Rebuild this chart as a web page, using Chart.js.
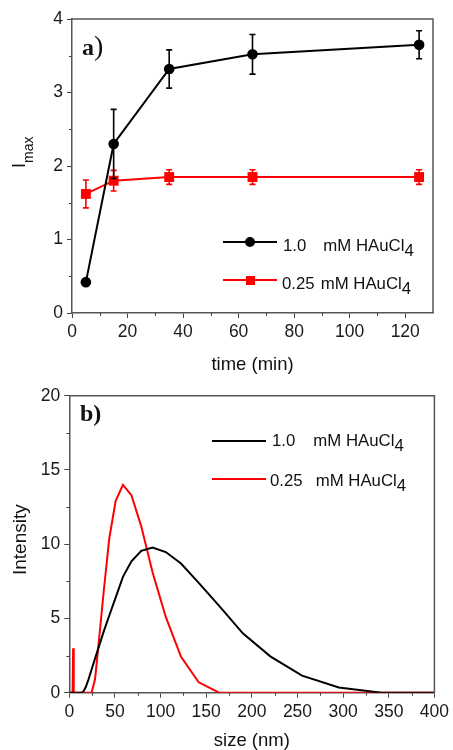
<!DOCTYPE html>
<html>
<head>
<meta charset="utf-8">
<title>I max and size distribution</title>
<script src="https://cdn.jsdelivr.net/npm/chart.js@4.4.1/dist/chart.umd.min.js"></script>
<style>
  html, body { margin: 0; padding: 0; background: #fff; }
  #page { position: relative; width: 453px; height: 750px; overflow: hidden;
          font-family: "Liberation Sans", Arial, sans-serif; color: #111; }
  .panel { position: absolute; left: 0; width: 453px; height: 375px; }
  #panelA { top: 0; }
  #panelB { top: 375px; }
  canvas { display: block; }
  .txt { position: absolute; white-space: pre; line-height: 1; }
  .leg { font-size: 16.8px; }
  .txt sub { font-size: 16.8px; vertical-align: baseline; position: relative; top: 5px; }
  .tag { font-family: "Liberation Serif", "Times New Roman", serif; font-weight: bold; font-size: 24px; }
  .rot { transform-origin: 0 0; transform: rotate(-90deg); }
  .swatch { position: absolute; height: 2px; width: 54px; }
  .dot { position: absolute; width: 10px; height: 10px; border-radius: 50%; left: 22px; top: -4px; }
  .sq { position: absolute; width: 9px; height: 9px; left: 22.5px; top: -3.5px; }
</style>
</head>
<body>
<div id="page">
  <div class="panel" id="panelA"><canvas id="imaxChart" width="453" height="375"></canvas></div>
  <div class="panel" id="panelB"><canvas id="sizeChart" width="453" height="375"></canvas></div>

  <!-- panel a overlays -->
  <div class="txt tag" style="left:82px; top:32px;">a<span style="font-weight:normal; font-size:28px;">)</span></div>
  <div class="txt rot" style="left:10px; top:168px; font-size:18px;">I<span style="font-size:14px; position:relative; top:8px;">max</span></div>
  <div class="swatch" style="left:223px; top:241px; background:#000;"><div class="dot" style="background:#000;"></div></div>
  <div class="txt leg" style="left:283px; top:238px;">1.0<span style="margin-left:17px;">mM HAuCl<sub>4</sub></span></div>
  <div class="swatch" style="left:223px; top:279px; background:#f00;"><div class="sq" style="background:#f00;"></div></div>
  <div class="txt leg" style="left:282px; top:276px;">0.25<span style="margin-left:6px;">mM HAuCl<sub>4</sub></span></div>

  <!-- panel b overlays -->
  <div class="txt tag" style="left:80px; top:401px;">b)</div>
  <div class="txt rot" style="left:10px; top:575px; font-size:19px;">Intensity</div>
  <div class="swatch" style="left:212px; top:440px; background:#000;"></div>
  <div class="txt leg" style="left:272px; top:433px;">1.0<span style="margin-left:18px;">mM HAuCl<sub>4</sub></span></div>
  <div class="swatch" style="left:212px; top:478px; background:#f00;"></div>
  <div class="txt leg" style="left:270px; top:473px;">0.25<span style="margin-left:13px;">mM HAuCl<sub>4</sub></span></div>
</div>

<script>
// I_max versus reaction time, 1.0 mM and 0.25 mM HAuCl4
const timeMin = [5, 15, 35, 65, 125];
const imaxHigh = [0.42, 2.30, 3.32, 3.52, 3.65];
const imaxHighErr = [0.03, 0.47, 0.26, 0.27, 0.19];
const imaxLow = [1.62, 1.80, 1.85, 1.85, 1.85];
const imaxLowErr = [0.19, 0.14, 0.10, 0.10, 0.10];
const timeTicks = [0, 20, 40, 60, 80, 100, 120];
const imaxTicks = [0, 1, 2, 3, 4];

// DLS intensity distribution over the size bins (nm)
const sizeNm = [0.4, 3.615, 4.187, 4.849, 13.54, 15.69, 18.17, 21.04, 24.36, 28.21, 32.67, 37.84,
                43.82, 50.75, 58.77, 68.06, 78.82, 91.28, 105.7, 122.4, 141.8, 164.2, 190.1,
                220.2, 255.0, 295.3, 342.0, 396.1, 458.7];
const intensityHigh = [0, 0, 0, 0, 0, 0.1, 0.4, 0.9, 1.55, 2.3, 3.15, 4.15,
                       5.2, 6.4, 7.8, 8.85, 9.55, 9.77, 9.47, 8.7, 7.4, 5.85, 4.0,
                       2.45, 1.15, 0.35, 0, 0, 0];
const intensityLow = [0, 0, 3.0, 0, 0, 0, 0, 0, 0, 0.9, 3.65, 6.9,
                      10.4, 12.9, 14.0, 13.3, 11.2, 8.1, 5.1, 2.42, 0.7, 0, 0,
                      0, 0, 0, 0, 0, 0];
const sizeTicks = [0, 50, 100, 150, 200, 250, 300, 350, 400];
const intensityTicks = [0, 5, 10, 15, 20];

const FONT = '"Liberation Sans", Arial, sans-serif';
const AXIS_GREY = '#555';

// top/right frame plus short unlabelled ticks between the labelled ones
const framePlugin = {
    id: 'frame',
    afterDraw(chart, args, opts) {
        const { ctx, chartArea: a, scales } = chart;
        const mids = list => list.slice(1).map((v, i) => (v + list[i]) / 2);
        ctx.save();
        ctx.strokeStyle = AXIS_GREY;
        ctx.lineWidth = 1.5;
        ctx.beginPath();
        ctx.moveTo(a.left, a.top);
        ctx.lineTo(a.right, a.top);
        ctx.lineTo(a.right, a.bottom);
        ctx.stroke();

        ctx.lineWidth = 1;
        ctx.strokeStyle = '#444';
        ctx.beginPath();
        mids(opts.xTicks).forEach(v => {
            const px = Math.round(scales.x.getPixelForValue(v)) + 0.5;
            ctx.moveTo(px, a.bottom);
            ctx.lineTo(px, a.bottom + 3);
        });
        mids(opts.yTicks).forEach(v => {
            const py = Math.round(scales.y.getPixelForValue(v)) + 0.5;
            ctx.moveTo(a.left, py);
            ctx.lineTo(a.left - 3, py);
        });
        ctx.stroke();
        ctx.restore();
    }
};

// vertical error bars with caps, drawn right after their own dataset
const errorBarPlugin = {
    id: 'errorBars',
    afterDatasetDraw(chart, args) {
        const ds = chart.data.datasets[args.index];
        if (!ds.errors) return;
        const { ctx } = chart;
        const yScale = chart.scales.y;
        ctx.save();
        ctx.strokeStyle = ds.borderColor;
        ctx.lineWidth = 1.6;
        args.meta.data.forEach((pt, i) => {
            const v = ds.data[i].y;
            const err = ds.errors[i];
            const top = yScale.getPixelForValue(v + err);
            const bottom = yScale.getPixelForValue(v - err);
            ctx.beginPath();
            ctx.moveTo(pt.x, top);
            ctx.lineTo(pt.x, bottom);
            ctx.moveTo(pt.x - 3, top);
            ctx.lineTo(pt.x + 3, top);
            ctx.moveTo(pt.x - 3, bottom);
            ctx.lineTo(pt.x + 3, bottom);
            ctx.stroke();
        });
        ctx.restore();
    }
};

function makeAxis(min, max, ticks, width, height, title, titlePad) {
    const axis = {
        type: 'linear',
        min: min,
        max: max,
        afterBuildTicks: s => { s.ticks = ticks.map(v => ({ value: v })); },
        grid: { drawOnChartArea: false, drawTicks: true, tickLength: 5, tickColor: '#444', tickWidth: 1 },
        border: { display: true, color: AXIS_GREY, width: 1.5 },
        ticks: { color: '#1a1a1a', font: { family: FONT, size: 17.5 }, padding: 4, maxRotation: 0, autoSkip: false },
        title: { display: false }
    };
    if (width) axis.afterFit = s => { s.width = width; };
    if (height) axis.afterFit = s => { s.height = height; };
    if (title) {
        axis.title = {
            display: true,
            text: title,
            color: '#111',
            font: { family: FONT, size: 18.5, lineHeight: 1 },
            padding: { top: 0, bottom: titlePad }
        };
    }
    return axis;
}

function pairs(xs, ys) {
    return xs.map((x, i) => ({ x: x, y: ys[i] }));
}

new Chart(document.getElementById('imaxChart'), {
    type: 'line',
    data: {
        datasets: [
            {
                label: '1.0 mM HAuCl4',
                data: pairs(timeMin, imaxHigh),
                errors: imaxHighErr,
                borderColor: '#000',
                backgroundColor: '#000',
                borderWidth: 2,
                pointStyle: 'circle',
                pointRadius: 5.3,
                pointBorderWidth: 0,
                tension: 0
            },
            {
                label: '0.25 mM HAuCl4',
                data: pairs(timeMin, imaxLow),
                errors: imaxLowErr,
                borderColor: '#ff0000',
                backgroundColor: '#ff0000',
                borderWidth: 2,
                pointStyle: 'rect',
                pointRadius: 7,
                pointBorderWidth: 0,
                tension: 0
            }
        ]
    },
    options: {
        responsive: false,
        animation: false,
        layout: { padding: { top: 19, right: 20, left: 0, bottom: 0 } },
        scales: {
            x: makeAxis(0, 130, timeTicks, 0, 62, 'time (min)', 1),
            y: makeAxis(0, 4, imaxTicks, 72, 0, null, 0)
        },
        plugins: {
            legend: { display: false },
            tooltip: { enabled: false },
            frame: { xTicks: timeTicks, yTicks: imaxTicks }
        }
    },
    plugins: [framePlugin, errorBarPlugin]
});

new Chart(document.getElementById('sizeChart'), {
    type: 'line',
    data: {
        datasets: [
            {
                label: '1.0 mM HAuCl4',
                data: pairs(sizeNm, intensityHigh),
                borderColor: '#000',
                borderWidth: 2,
                pointRadius: 0,
                tension: 0
            },
            {
                label: '0.25 mM HAuCl4',
                data: pairs(sizeNm, intensityLow),
                borderColor: '#ff0000',
                borderWidth: 2,
                pointRadius: 0,
                tension: 0
            }
        ]
    },
    options: {
        responsive: false,
        animation: false,
        layout: { padding: { top: 20.7, right: 17, left: 0, bottom: 0 } },
        scales: {
            x: makeAxis(0, 400, sizeTicks, 0, 57.3, 'size (nm)', 0),
            y: makeAxis(0, 20, intensityTicks, 69.3, 0, null, 0)
        },
        plugins: {
            legend: { display: false },
            tooltip: { enabled: false },
            frame: { xTicks: sizeTicks, yTicks: intensityTicks }
        }
    },
    plugins: [framePlugin, errorBarPlugin]
});
</script>
</body>
</html>
